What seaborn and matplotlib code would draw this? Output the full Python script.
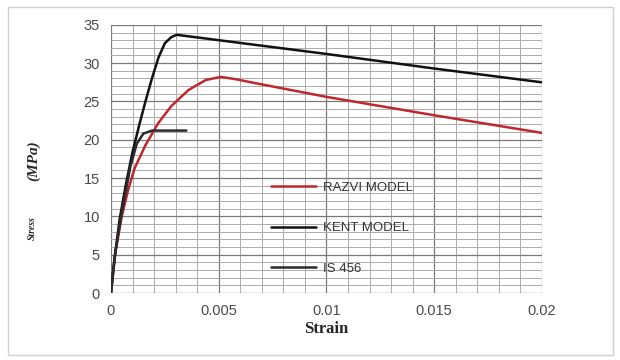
import numpy as np
import pandas as pd
import seaborn as sns
import matplotlib.pyplot as plt
from matplotlib.ticker import MultipleLocator

# values
razvi_strain = [0.0, 0.0002, 0.0005, 0.0008, 0.0011, 0.0016, 0.0022, 0.0028, 0.0036, 0.0044, 0.0051, 0.0058, 0.0065, 0.010, 0.015, 0.020]
razvi_stress = [0.0, 5.2, 10.0, 13.5, 16.3, 19.3, 22.2, 24.4, 26.5, 27.8, 28.2, 27.9, 27.5, 25.6, 23.2, 20.9]

kent_strain = [0.0, 0.0001, 0.0002, 0.0004, 0.0007, 0.001, 0.0013, 0.0016, 0.0019, 0.0022, 0.0025, 0.0028, 0.00305, 0.010, 0.015, 0.020]
kent_stress = [0.0, 3.0, 5.3, 9.6, 14.3, 18.4, 21.8, 25.0, 28.0, 30.7, 32.6, 33.4, 33.7, 31.2, 29.3, 27.5]

is456_strain = [0.0, 0.0002, 0.0005, 0.0009, 0.0012, 0.0015, 0.0019, 0.0035]
is456_stress = [0.0, 5.3, 10.5, 16.5, 19.5, 20.8, 21.2, 21.2]

series = ["RAZVI MODEL", "KENT MODEL", "IS 456"]
colors = {"RAZVI MODEL": "#c0272d", "KENT MODEL": "#111111", "IS 456": "#2b2b2b"}

df = pd.concat([
    pd.DataFrame({"strain": razvi_strain, "stress": razvi_stress, "model": series[0]}),
    pd.DataFrame({"strain": kent_strain, "stress": kent_stress, "model": series[1]}),
    pd.DataFrame({"strain": is456_strain, "stress": is456_stress, "model": series[2]}),
])

sns.set_style("white")
plt.rcParams["font.family"] = ["Liberation Sans", "DejaVu Sans"]

fig = plt.figure(figsize=(6.2, 3.6), dpi=100)
ax = fig.add_axes([0.179, 0.186, 0.695, 0.745])

sns.lineplot(data=df, x="strain", y="stress", hue="model", hue_order=series,
             palette=colors, sort=False, estimator=None, linewidth=1.8, ax=ax)

ax.set_xlim(0, 0.02)
ax.set_ylim(0, 35)
ax.xaxis.set_minor_locator(MultipleLocator(0.001))
ax.yaxis.set_major_locator(MultipleLocator(5))
ax.yaxis.set_minor_locator(MultipleLocator(1))
ax.set_xticks([0, 0.005, 0.01, 0.015, 0.02])
ax.set_xticklabels(["0", "0.005", "0.01", "0.015", "0.02"])
ax.grid(which="major", color="#7a7a7a", linewidth=0.9)
ax.grid(which="minor", color="#ababab", linewidth=0.7)
ax.set_axisbelow(True)
for s in ax.spines.values():
    s.set_visible(False)
ax.tick_params(which="both", length=0, labelsize=10.5, colors="#4a4a4a", pad=8)

ax.set_xlabel("Strain", family="Liberation Serif", fontweight="bold", fontsize=12, labelpad=2)
ax.set_ylabel("")
# y label in two parts: small "Stress" below larger "(MPa)"
fig.text(0.052, 0.365, "Stress", rotation=90, family="Liberation Serif", fontstyle="italic",
         fontweight="bold", fontsize=7, ha="center", va="center")
fig.text(0.054, 0.555, "(MPa)", rotation=90, family="Liberation Serif", fontstyle="italic",
         fontweight="bold", fontsize=11, ha="center", va="center")

leg = ax.legend(loc="upper left", bbox_to_anchor=(0.343, 0.46), frameon=False,
                handlelength=3.4, labelspacing=2.15, handletextpad=0.6,
                prop={"family": ["Liberation Sans Narrow", "Liberation Sans"], "size": 9.5})
for t in leg.get_texts():
    t.set_color("#333333")

# light border around the chart area
fig.patches.append(plt.Rectangle((0.013, 0.015), 0.975, 0.965, transform=fig.transFigure,
                                 fill=False, edgecolor="#d0d0d0", linewidth=1))

fig.savefig("out.png", dpi=100)
